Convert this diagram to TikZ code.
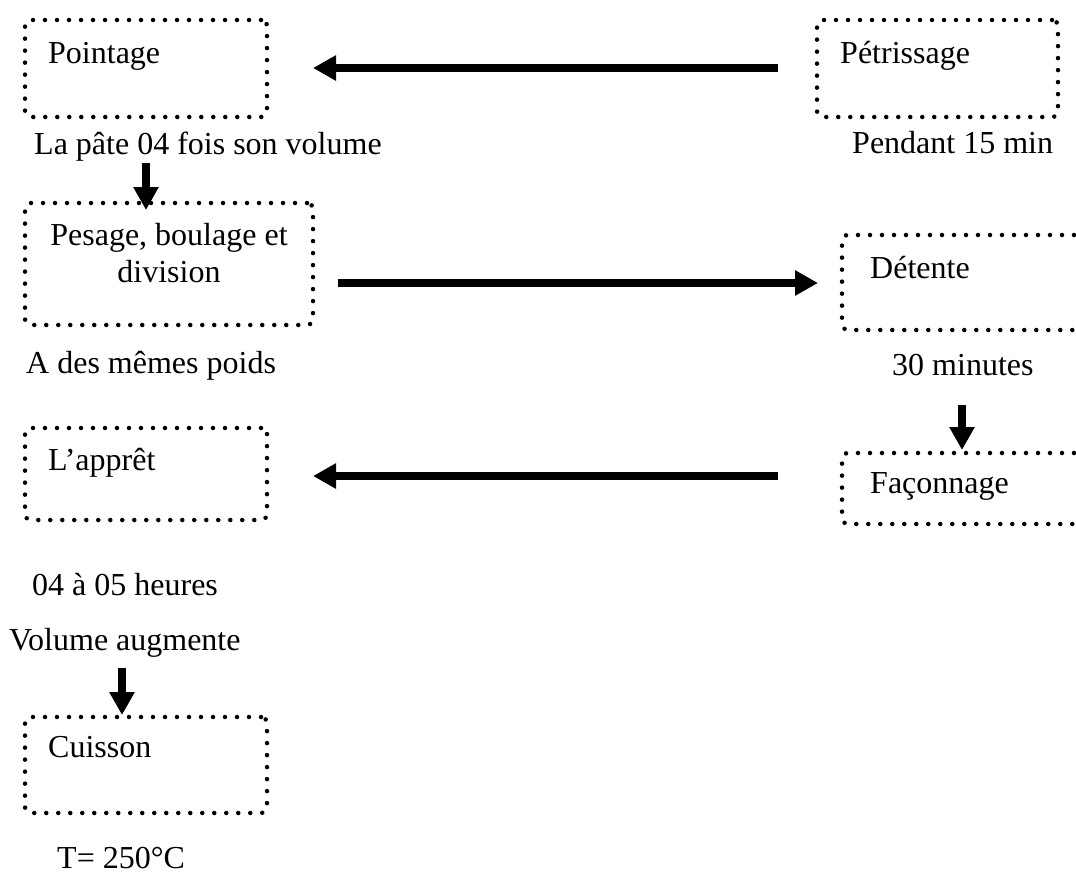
\documentclass[tikz,border=0pt]{standalone}
\usepackage{fontspec}
\setmainfont{Liberation Serif}
\usetikzlibrary{arrows.meta,calc}
\tikzset{
  box/.style={draw, line width=4.5pt, dash pattern=on 0pt off 12pt, line cap=round, rounded corners=6pt, inner sep=0pt, outer sep=0pt, minimum width=242pt},
  txt/.style={inner sep=0pt, anchor=base west, font=\fontsize{32}{37}\selectfont},
  arr/.style={line width=8pt, -{Triangle[length=23pt,width=24pt]}}
}
\begin{document}
\begin{tikzpicture}[x=1pt,y=-1pt]
\useasboundingbox (0,0) rectangle (1076,873);
% boxes
\node[box, minimum height=97pt] (poi) at (146,68.5) {};
\node[box, minimum width=241pt, minimum height=97pt] (pet) at (937.5,68.5) {};
\node[box, minimum width=288pt, minimum height=122pt] (pes) at (169,264) {};
\node[box, minimum width=250pt, minimum height=95pt] (det) at (967,282.5) {};
\node[box, minimum width=250pt, minimum height=71pt] (fac) at (967,488.5) {};
\node[box, minimum height=92pt] (app) at (146,474) {};
\node[box, minimum height=96pt] (cui) at (146,765) {};
% texts in boxes
\node[txt] (tpoi) at ($(poi.north west)+(23,43)$) {Pointage};
\node[txt] (tpet) at ($(pet.north west)+(23,43)$) {Pétrissage};
\node[txt, anchor=base, align=center] (tpes) at (169,282) {Pesage, boulage et\\division};
\node[txt] (tdet) at ($(det.north west)+(28,43)$) {Détente};
\node[txt] (tfac) at ($(fac.north west)+(28,40)$) {Façonnage};
\node[txt] (tapp) at ($(app.north west)+(23,42)$) {L’apprêt};
\node[txt] (tcui) at ($(cui.north west)+(23,40)$) {Cuisson};
% labels
\node[txt] (lap) at (34,154) {La pâte 04 fois son volume};
\node[txt] (l15) at (852,153) {Pendant 15 min};
\node[txt] (lpoi) at (26,373) {A des mêmes poids};
\node[txt] (l30) at (892,375) {30 minutes};
\node[txt] (lh) at (32,595) {04 à 05 heures};
\node[txt] (lvol) at (9,650) {Volume augmente};
\node[txt] (lt) at (57,868) {T= 250°C};
% arrows
\draw[arr] ($(pet.west)+(-39,-0.5)$) -- ($(poi.east)+(46,-0.5)$);
\draw[arr] ($(pes.east)+(25,19)$) -- ($(det.west)+(-24,0.5)$);
\draw[arr] ($(fac.west)+(-64,-12.5)$) -- ($(app.east)+(46,2)$);
\draw[arr] ($(lap.base west)+(112,9)$) -- ($(pes.north west)+(121,7)$);
\draw[arr] ($(l30.base west)+(70,30)$) -- ($(fac.north west)+(120,-3)$);
\draw[arr] ($(lvol.base west)+(113,18)$) -- ($(cui.north west)+(97,-2)$);
\end{tikzpicture}
\end{document}
